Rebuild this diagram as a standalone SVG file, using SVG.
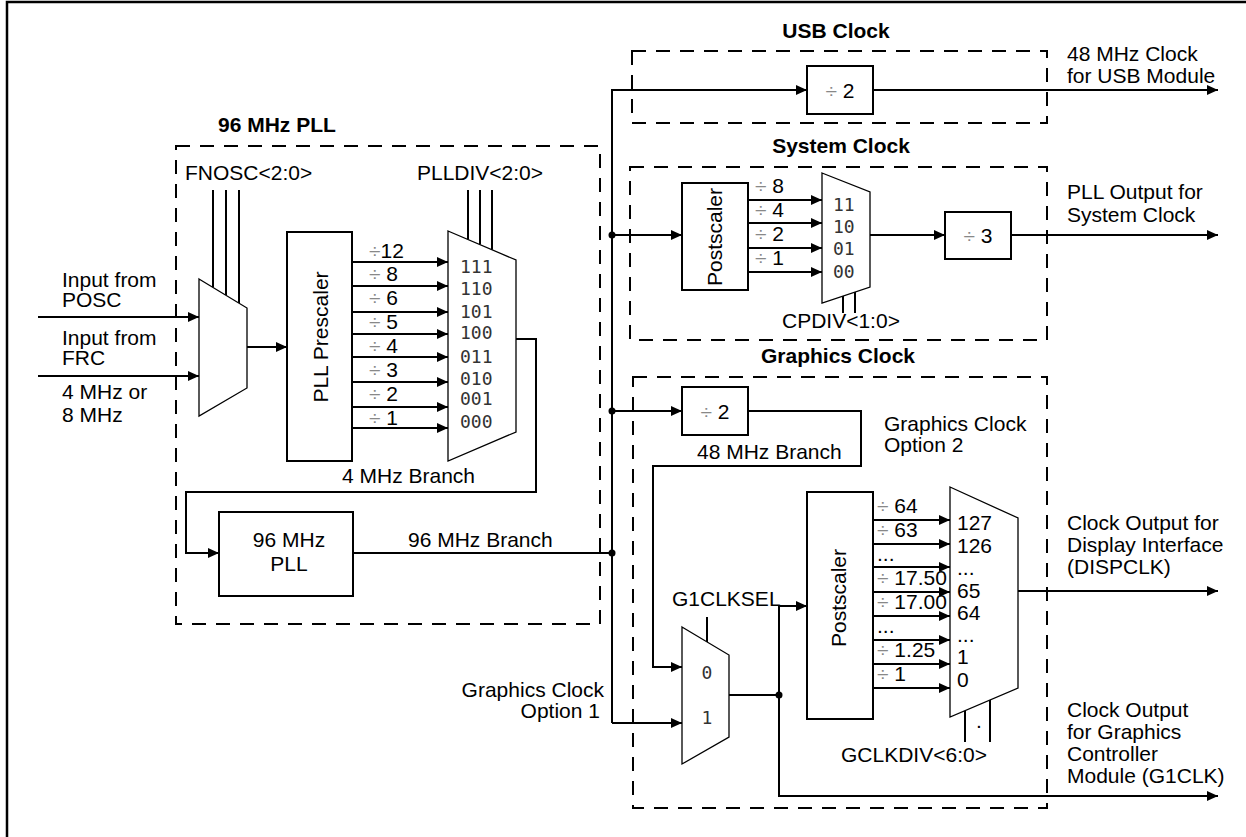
<svg xmlns="http://www.w3.org/2000/svg" width="1246" height="837" viewBox="0 0 1246 837">
<style>
.t{font-family:"Liberation Sans",Arial,sans-serif;font-size:21px;fill:#000}
.b{font-weight:bold}
.m{font-family:"DejaVu Sans Mono",monospace;font-size:18px;fill:#333}
.d{fill:#888}
.w{stroke:#000;stroke-width:2;fill:none}
.box{fill:#fff;stroke:#000;stroke-width:2}
.mux{fill:#fff;stroke:#000;stroke-width:1.3}
.dash{fill:none;stroke:#000;stroke-width:2;stroke-dasharray:14 10}
.a{marker-end:url(#arr)}
</style>
<defs>
<marker id="arr" markerUnits="userSpaceOnUse" markerWidth="11" markerHeight="10" refX="11" refY="5" orient="auto">
<path d="M0,0 L11,5 L0,10 z" fill="#000"/>
</marker>
</defs>
<rect x="0" y="0" width="1246" height="837" fill="#fff"/>
<path d="M7,840 V2 H1250" fill="none" stroke="#000" stroke-width="2.5"/>

<!-- group frames -->
<g id="pll-group">
<rect class="dash" x="176" y="146" width="424" height="478"/>
<text class="t b" x="218" y="132">96 MHz PLL</text>
</g>
<g id="usb-group">
<rect class="dash" x="632" y="51" width="415" height="72"/>
<text class="t b" x="836" y="38" text-anchor="middle">USB Clock</text>
</g>
<g id="sys-group">
<rect class="dash" x="630" y="167" width="417" height="173"/>
<text class="t b" x="841" y="153" text-anchor="middle">System Clock</text>
</g>
<g id="gfx-group">
<rect class="dash" x="633" y="377" width="414" height="431"/>
<text class="t b" x="838" y="363" text-anchor="middle">Graphics Clock</text>
</g>

<!-- connectors -->
<g id="connectors">
<line class="w a" x1="38" y1="317" x2="199" y2="317"/>
<line class="w a" x1="38" y1="376" x2="199" y2="376"/>
<line class="w" x1="213" y1="190" x2="213" y2="287.5"/>
<line class="w" x1="226" y1="190" x2="226" y2="295.3"/>
<line class="w" x1="239" y1="190" x2="239" y2="303.2"/>
<line class="w a" x1="247" y1="347" x2="287" y2="347"/>
<line class="w a" x1="352" y1="262" x2="448" y2="262"/>
<line class="w a" x1="352" y1="286" x2="448" y2="286"/>
<line class="w a" x1="352" y1="312" x2="448" y2="312"/>
<line class="w a" x1="352" y1="334" x2="448" y2="334"/>
<line class="w a" x1="352" y1="357" x2="448" y2="357"/>
<line class="w a" x1="352" y1="382" x2="448" y2="382"/>
<line class="w a" x1="352" y1="407" x2="448" y2="407"/>
<line class="w a" x1="352" y1="428" x2="448" y2="428"/>
<line class="w" x1="468" y1="190" x2="468" y2="239.5"/>
<line class="w" x1="480" y1="190" x2="480" y2="244.6"/>
<line class="w" x1="492" y1="190" x2="492" y2="249.8"/>
<path class="w a" d="M516,339 H536 V492 H186 V553 H219"/>
<line class="w" x1="353" y1="553" x2="612" y2="553"/>
<path class="w a" d="M612,723 V90 H807"/>
<line class="w a" x1="612" y1="723" x2="682" y2="723"/>
<line class="w a" x1="873" y1="90" x2="1218" y2="90"/>
<line class="w a" x1="612" y1="235" x2="682" y2="235"/>
<line class="w a" x1="748" y1="200" x2="822" y2="200"/>
<line class="w a" x1="748" y1="223" x2="822" y2="223"/>
<line class="w a" x1="748" y1="248" x2="822" y2="248"/>
<line class="w a" x1="748" y1="272" x2="822" y2="272"/>
<line class="w" x1="843" y1="296" x2="843" y2="313"/>
<line class="w" x1="855" y1="292" x2="855" y2="313"/>
<line class="w a" x1="870" y1="235" x2="945" y2="235"/>
<line class="w a" x1="1011" y1="235" x2="1218" y2="235"/>
<line class="w a" x1="612" y1="411" x2="682" y2="411"/>
<path class="w a" d="M748,411 H861 V466 H653 V667 H682"/>
<line class="w" x1="707" y1="617" x2="707" y2="642"/>
<path class="w" d="M729,695 H779"/>
<path class="w a" d="M779,695 V606 H807"/>
<path class="w a" d="M779,695 V796 H1218"/>
<line class="w a" x1="873" y1="520" x2="950" y2="520"/>
<line class="w a" x1="873" y1="544" x2="950" y2="544"/>
<line class="w a" x1="873" y1="567" x2="950" y2="567"/>
<line class="w a" x1="873" y1="592" x2="950" y2="592"/>
<line class="w a" x1="873" y1="616" x2="950" y2="616"/>
<line class="w a" x1="871" y1="640" x2="950" y2="640"/>
<line class="w a" x1="873" y1="664" x2="950" y2="664"/>
<line class="w a" x1="873" y1="688" x2="950" y2="688"/>
<line class="w" x1="965" y1="710.5" x2="965" y2="742"/>
<line class="w" x1="990" y1="699.7" x2="990" y2="742"/>
<line class="w a" x1="1018" y1="591" x2="1218" y2="591"/>
<circle cx="612" cy="235" r="3.5"/>
<circle cx="612" cy="411" r="3.5"/>
<circle cx="612" cy="553" r="3.5"/>
<circle cx="779" cy="695" r="3.5"/>
</g>

<!-- labels on connectors -->
<g id="io-labels">
<text class="t" x="62" y="287">Input from</text>
<text class="t" x="62" y="307">POSC</text>
<text class="t" x="62" y="345">Input from</text>
<text class="t" x="62" y="365">FRC</text>
<text class="t" x="62" y="399">4 MHz or</text>
<text class="t" x="62" y="422">8 MHz</text>
<text class="t" x="185" y="180">FNOSC&lt;2:0&gt;</text>
<text class="t" x="480" y="180" text-anchor="middle">PLLDIV&lt;2:0&gt;</text>
<text class="t" x="342" y="483">4 MHz Branch</text>
<text class="t" x="408" y="547">96 MHz Branch</text>
<text class="t" x="1067" y="61">48 MHz Clock</text>
<text class="t" x="1067" y="83">for USB Module</text>
<text class="t" x="1067" y="199">PLL Output for</text>
<text class="t" x="1067" y="222">System Clock</text>
<text class="t" x="782" y="328">CPDIV&lt;1:0&gt;</text>
<text class="t" x="697" y="459">48 MHz Branch</text>
<text class="t" x="884" y="431">Graphics Clock</text>
<text class="t" x="884" y="452">Option 2</text>
<text class="t" x="604" y="697" text-anchor="end">Graphics Clock</text>
<text class="t" x="600" y="718" text-anchor="end">Option 1</text>
<text class="t" x="672" y="606">G1CLKSEL</text>
<text class="t" x="841" y="762">GCLKDIV&lt;6:0&gt;</text>
<text class="t" x="976" y="728">.</text>
<text class="t" x="1067" y="530">Clock Output for</text>
<text class="t" x="1067" y="552">Display Interface</text>
<text class="t" x="1067" y="574">(DISPCLK)</text>
<text class="t" x="1067" y="717">Clock Output</text>
<text class="t" x="1067" y="739">for Graphics</text>
<text class="t" x="1067" y="761">Controller</text>
<text class="t" x="1067" y="783">Module (G1CLK)</text>
</g>

<!-- nodes -->
<g id="input-mux">
<polygon class="mux" points="199,279 247,308 247,388 199,416"/>
</g>
<g id="pll-prescaler">
<rect class="box" x="287" y="232" width="65" height="229"/>
<text class="t" transform="translate(328,337) rotate(-90)" text-anchor="middle">PLL Prescaler</text>
<text class="t" x="369" y="258"><tspan class="d">÷</tspan>12</text>
<text class="t" x="369" y="281"><tspan class="d">÷</tspan> 8</text>
<text class="t" x="369" y="305"><tspan class="d">÷</tspan> 6</text>
<text class="t" x="369" y="329"><tspan class="d">÷</tspan> 5</text>
<text class="t" x="369" y="353"><tspan class="d">÷</tspan> 4</text>
<text class="t" x="369" y="377"><tspan class="d">÷</tspan> 3</text>
<text class="t" x="369" y="401"><tspan class="d">÷</tspan> 2</text>
<text class="t" x="369" y="425"><tspan class="d">÷</tspan> 1</text>
</g>
<g id="plldiv-mux">
<polygon class="mux" points="448,231 516,260 516,432 448,461"/>
<text class="m" x="460" y="273">111</text>
<text class="m" x="460" y="295">110</text>
<text class="m" x="460" y="318">101</text>
<text class="m" x="460" y="339">100</text>
<text class="m" x="460" y="363">011</text>
<text class="m" x="460" y="385">010</text>
<text class="m" x="460" y="405">001</text>
<text class="m" x="460" y="428">000</text>
</g>
<g id="pll96">
<rect class="box" x="219" y="512" width="134" height="84"/>
<text class="t" x="289" y="547" text-anchor="middle">96 MHz</text>
<text class="t" x="289" y="571" text-anchor="middle">PLL</text>
</g>
<g id="usb-div2">
<rect class="box" x="807" y="66" width="66" height="48"/>
<text class="t" x="840" y="98" text-anchor="middle"><tspan class="d">÷</tspan> 2</text>
</g>
<g id="sys-postscaler">
<rect class="box" x="682" y="183" width="66" height="107"/>
<text class="t" transform="translate(722,237) rotate(-90)" text-anchor="middle">Postscaler</text>
<text class="t" x="755" y="193"><tspan class="d">÷</tspan> 8</text>
<text class="t" x="755" y="217"><tspan class="d">÷</tspan> 4</text>
<text class="t" x="755" y="241"><tspan class="d">÷</tspan> 2</text>
<text class="t" x="755" y="265"><tspan class="d">÷</tspan> 1</text>
</g>
<g id="cpdiv-mux">
<polygon class="mux" points="822,173 870,192 870,287 822,303"/>
<text class="m" x="833" y="211">11</text>
<text class="m" x="833" y="233">10</text>
<text class="m" x="833" y="255">01</text>
<text class="m" x="833" y="278">00</text>
</g>
<g id="sys-div3">
<rect class="box" x="945" y="212" width="66" height="47"/>
<text class="t" x="978" y="243" text-anchor="middle"><tspan class="d">÷</tspan> 3</text>
</g>
<g id="gfx-div2">
<rect class="box" x="682" y="387" width="66" height="48"/>
<text class="t" x="715" y="419" text-anchor="middle"><tspan class="d">÷</tspan> 2</text>
</g>
<g id="g1clksel-mux">
<polygon class="mux" points="682,627 729,655 729,737 682,764"/>
<text class="m" x="707" y="679" text-anchor="middle">0</text>
<text class="m" x="707" y="724" text-anchor="middle">1</text>
</g>
<g id="gfx-postscaler">
<rect class="box" x="807" y="492" width="66" height="227"/>
<text class="t" transform="translate(846,598) rotate(-90)" text-anchor="middle">Postscaler</text>
<text class="t" x="877" y="513"><tspan class="d">÷</tspan> 64</text>
<text class="t" x="877" y="537"><tspan class="d">÷</tspan> 63</text>
<text class="t" x="877" y="561">...</text>
<text class="t" x="877" y="585"><tspan class="d">÷</tspan> 17.50</text>
<text class="t" x="877" y="609"><tspan class="d">÷</tspan> 17.00</text>
<text class="t" x="877" y="633">...</text>
<text class="t" x="877" y="657"><tspan class="d">÷</tspan> 1.25</text>
<text class="t" x="877" y="681"><tspan class="d">÷</tspan> 1</text>
</g>
<g id="gclkdiv-mux">
<polygon class="mux" points="950,487 1018,518 1018,688 950,717"/>
<text class="t" x="957" y="530">127</text>
<text class="t" x="957" y="553">126</text>
<text class="t" x="957" y="575">...</text>
<text class="t" x="957" y="598">65</text>
<text class="t" x="957" y="620">64</text>
<text class="t" x="957" y="642">...</text>
<text class="t" x="957" y="664">1</text>
<text class="t" x="957" y="687">0</text>
</g>
</svg>
